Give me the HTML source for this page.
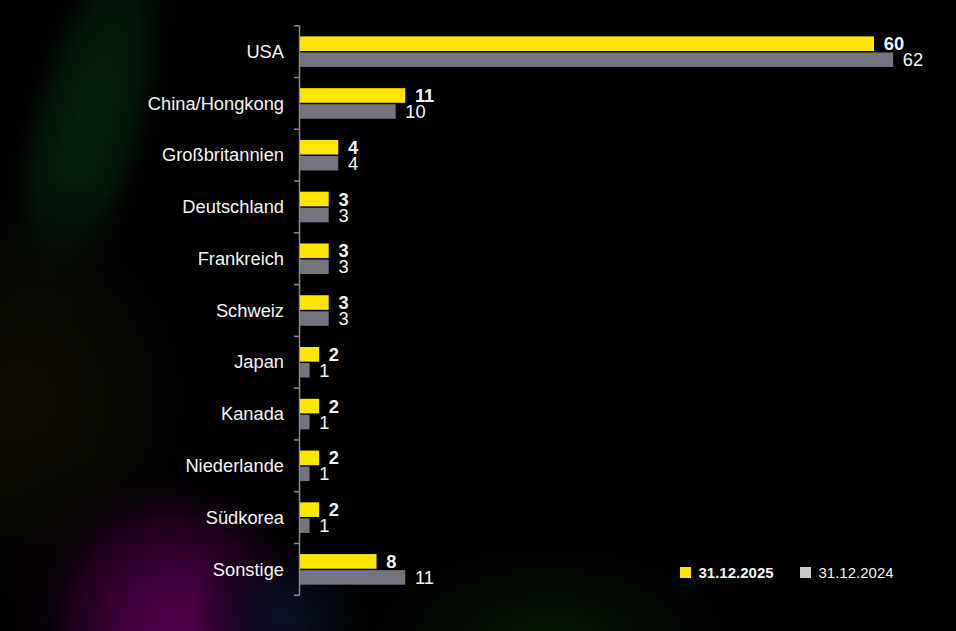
<!DOCTYPE html>
<html><head><meta charset="utf-8"><style>
html,body{margin:0;padding:0;width:956px;height:631px;overflow:hidden;background:#000;}
#bg{position:absolute;left:0;top:0;width:956px;height:631px;}
svg{position:absolute;left:0;top:0;}
text{font-family:"Liberation Sans",sans-serif;fill:#f4f4f4;}
.c{font-size:18.3px;}
.va{font-size:18.3px;font-weight:bold;}
.vb{font-size:18.3px;}
.la{font-size:15px;font-weight:bold;}
.lb{font-size:15px;}
</style></head><body>
<div id="bg"></div>
<svg width="956" height="631" viewBox="0 0 956 631">
<defs>
<radialGradient id="gPurple" cx="0" cy="0" r="1" gradientUnits="userSpaceOnUse" gradientTransform="translate(178 640) rotate(75) scale(175 150)">
<stop offset="0" stop-color="#56004c"/>
<stop offset="0.35" stop-color="#440040" stop-opacity="0.95"/>
<stop offset="0.7" stop-color="#22001f" stop-opacity="0.8"/>
<stop offset="1" stop-color="#000" stop-opacity="0"/>
</radialGradient>
<radialGradient id="gNavy" cx="0" cy="0" r="1" gradientUnits="userSpaceOnUse" gradientTransform="translate(285 618) scale(95 85)">
<stop offset="0" stop-color="#0a1428" stop-opacity="0.9"/><stop offset="0.5" stop-color="#060c1c" stop-opacity="0.6"/>
<stop offset="1" stop-color="#000" stop-opacity="0"/>
</radialGradient>
<radialGradient id="gGreen" cx="0" cy="0" r="1" gradientUnits="userSpaceOnUse" gradientTransform="translate(88 125) rotate(105) scale(250 80)">
<stop offset="0" stop-color="#06220f"/>
<stop offset="0.5" stop-color="#05180a" stop-opacity="0.9"/>
<stop offset="1" stop-color="#000" stop-opacity="0"/>
</radialGradient>
<radialGradient id="gGreen2" cx="0" cy="0" r="1" gradientUnits="userSpaceOnUse" gradientTransform="translate(550 640) scale(250 130)">
<stop offset="0" stop-color="#081a06"/>
<stop offset="1" stop-color="#000" stop-opacity="0"/>
</radialGradient>
<radialGradient id="gBrown" cx="0" cy="0" r="1" gradientUnits="userSpaceOnUse" gradientTransform="translate(20 400) scale(210 230)">
<stop offset="0" stop-color="#0e0c03"/><stop offset="0.5" stop-color="#0b0902" stop-opacity="0.8"/>
<stop offset="1" stop-color="#000" stop-opacity="0"/>
</radialGradient>
<radialGradient id="gHaze" cx="0" cy="0" r="1" gradientUnits="userSpaceOnUse" gradientTransform="translate(150 620) scale(210 175)">
<stop offset="0" stop-color="#1c0018"/>
<stop offset="1" stop-color="#000" stop-opacity="0"/>
</radialGradient>
</defs>
<rect width="956" height="631" fill="#000"/>
<rect width="956" height="631" fill="url(#gGreen)"/>
<rect width="956" height="631" fill="url(#gBrown)"/>
<rect width="956" height="631" fill="url(#gGreen2)"/>
<rect width="956" height="631" fill="url(#gHaze)"/>
<rect width="956" height="631" fill="url(#gPurple)"/>
<rect width="956" height="631" fill="url(#gNavy)"/>
<line x1="299.5" y1="25.75" x2="299.5" y2="595.22" stroke="#8a8a8a" stroke-width="1.5"/>
<line x1="293.9" y1="25.75" x2="299.5" y2="25.75" stroke="#8a8a8a" stroke-width="1.5"/>
<line x1="293.9" y1="77.52" x2="299.5" y2="77.52" stroke="#8a8a8a" stroke-width="1.5"/>
<line x1="293.9" y1="129.29" x2="299.5" y2="129.29" stroke="#8a8a8a" stroke-width="1.5"/>
<line x1="293.9" y1="181.06" x2="299.5" y2="181.06" stroke="#8a8a8a" stroke-width="1.5"/>
<line x1="293.9" y1="232.83" x2="299.5" y2="232.83" stroke="#8a8a8a" stroke-width="1.5"/>
<line x1="293.9" y1="284.60" x2="299.5" y2="284.60" stroke="#8a8a8a" stroke-width="1.5"/>
<line x1="293.9" y1="336.37" x2="299.5" y2="336.37" stroke="#8a8a8a" stroke-width="1.5"/>
<line x1="293.9" y1="388.14" x2="299.5" y2="388.14" stroke="#8a8a8a" stroke-width="1.5"/>
<line x1="293.9" y1="439.91" x2="299.5" y2="439.91" stroke="#8a8a8a" stroke-width="1.5"/>
<line x1="293.9" y1="491.68" x2="299.5" y2="491.68" stroke="#8a8a8a" stroke-width="1.5"/>
<line x1="293.9" y1="543.45" x2="299.5" y2="543.45" stroke="#8a8a8a" stroke-width="1.5"/>
<line x1="293.9" y1="595.22" x2="299.5" y2="595.22" stroke="#8a8a8a" stroke-width="1.5"/>
<rect x="300" y="36.40" width="574.02" height="14.6" fill="#ffe600"/>
<rect x="300" y="52.45" width="593.15" height="14.5" fill="#747480"/>
<text x="284" y="57.84" text-anchor="end" class="c">USA</text>
<text x="883.72" y="50.30" class="va">60</text>
<text x="902.85" y="66.30" class="vb">62</text>
<rect x="300" y="88.17" width="105.24" height="14.6" fill="#ffe600"/>
<rect x="300" y="104.22" width="95.67" height="14.5" fill="#747480"/>
<text x="284" y="109.61" text-anchor="end" class="c">China/Hongkong</text>
<text x="414.94" y="102.07" class="va">11</text>
<text x="405.37" y="118.07" class="vb">10</text>
<rect x="300" y="139.94" width="38.27" height="14.6" fill="#ffe600"/>
<rect x="300" y="155.99" width="38.27" height="14.5" fill="#747480"/>
<text x="284" y="161.38" text-anchor="end" class="c">Großbritannien</text>
<text x="347.97" y="153.84" class="va">4</text>
<text x="347.97" y="169.84" class="vb">4</text>
<rect x="300" y="191.71" width="28.70" height="14.6" fill="#ffe600"/>
<rect x="300" y="207.76" width="28.70" height="14.5" fill="#747480"/>
<text x="284" y="213.14" text-anchor="end" class="c">Deutschland</text>
<text x="338.40" y="205.61" class="va">3</text>
<text x="338.40" y="221.61" class="vb">3</text>
<rect x="300" y="243.48" width="28.70" height="14.6" fill="#ffe600"/>
<rect x="300" y="259.53" width="28.70" height="14.5" fill="#747480"/>
<text x="284" y="264.92" text-anchor="end" class="c">Frankreich</text>
<text x="338.40" y="257.38" class="va">3</text>
<text x="338.40" y="273.38" class="vb">3</text>
<rect x="300" y="295.25" width="28.70" height="14.6" fill="#ffe600"/>
<rect x="300" y="311.30" width="28.70" height="14.5" fill="#747480"/>
<text x="284" y="316.69" text-anchor="end" class="c">Schweiz</text>
<text x="338.40" y="309.15" class="va">3</text>
<text x="338.40" y="325.15" class="vb">3</text>
<rect x="300" y="347.02" width="19.13" height="14.6" fill="#ffe600"/>
<rect x="300" y="363.07" width="9.57" height="14.5" fill="#747480"/>
<text x="284" y="368.45" text-anchor="end" class="c">Japan</text>
<text x="328.83" y="360.92" class="va">2</text>
<text x="319.27" y="376.92" class="vb">1</text>
<rect x="300" y="398.79" width="19.13" height="14.6" fill="#ffe600"/>
<rect x="300" y="414.84" width="9.57" height="14.5" fill="#747480"/>
<text x="284" y="420.23" text-anchor="end" class="c">Kanada</text>
<text x="328.83" y="412.69" class="va">2</text>
<text x="319.27" y="428.69" class="vb">1</text>
<rect x="300" y="450.56" width="19.13" height="14.6" fill="#ffe600"/>
<rect x="300" y="466.61" width="9.57" height="14.5" fill="#747480"/>
<text x="284" y="472.00" text-anchor="end" class="c">Niederlande</text>
<text x="328.83" y="464.46" class="va">2</text>
<text x="319.27" y="480.46" class="vb">1</text>
<rect x="300" y="502.33" width="19.13" height="14.6" fill="#ffe600"/>
<rect x="300" y="518.38" width="9.57" height="14.5" fill="#747480"/>
<text x="284" y="523.77" text-anchor="end" class="c">Südkorea</text>
<text x="328.83" y="516.23" class="va">2</text>
<text x="319.27" y="532.23" class="vb">1</text>
<rect x="300" y="554.10" width="76.54" height="14.6" fill="#ffe600"/>
<rect x="300" y="570.15" width="105.24" height="14.5" fill="#747480"/>
<text x="284" y="575.54" text-anchor="end" class="c">Sonstige</text>
<text x="386.24" y="568.00" class="va">8</text>
<text x="414.94" y="584.00" class="vb">11</text>
<rect x="680" y="567" width="11" height="11" fill="#ffe600"/>
<text x="698.5" y="578" class="la">31.12.2025</text>
<rect x="800" y="567" width="11" height="11" fill="#c8c8cd"/>
<text x="818.5" y="578" class="lb">31.12.2024</text>
</svg>
</body></html>
